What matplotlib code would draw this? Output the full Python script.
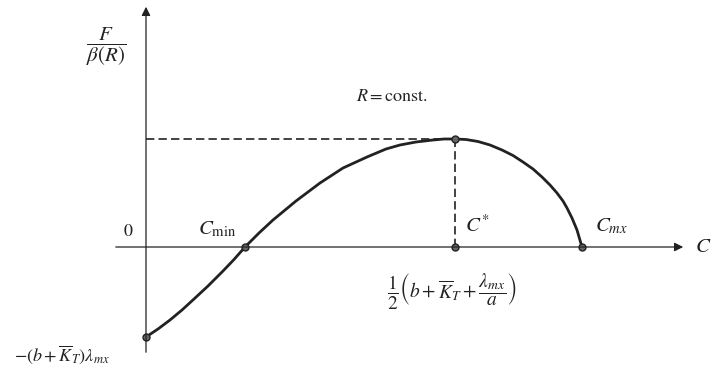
import matplotlib
matplotlib.use("Agg")
import matplotlib.pyplot as plt

plt.rcParams['mathtext.fontset'] = 'stix'
plt.rcParams['font.family'] = ['STIXGeneral', 'DejaVu Serif']

# F/beta(R) against C at fixed R (arbitrary units)
c_vals = [0, 12, 24, 36, 48, 62, 77, 88, 99, 113, 127, 150, 174, 197, 221,
          240, 254, 270, 287, 298, 309, 320, 332, 344, 356, 367, 377, 387,
          396, 404, 411, 417, 421, 426, 431, 436]
f_vals = [-90, -82, -73, -63, -52, -39, -24, -12.5, 0, 14, 27, 46, 64, 79, 90,
          98, 102, 105, 107, 108, 108, 107.5, 105.5, 102, 97, 91.5, 85, 78,
          70, 62, 54, 46, 39, 29, 17, 0]

c_min = 99
c_star = 309
c_mx = 436
f_peak = 108
f_start = -90

ink = '#222222'

fig = plt.figure(figsize=(7.12, 3.66), dpi=100)
ax = fig.add_axes([0, 0, 1, 1])
ax.set_xlim(-146, 566)
ax.set_ylim(-119, 247)
ax.axis('off')

# axes with arrow heads
ax.annotate('', xy=(540, 0), xytext=(-33, 0),
            arrowprops=dict(arrowstyle='-|>', lw=0.9, color=ink, mutation_scale=13))
ax.annotate('', xy=(0, 243), xytext=(0, -108),
            arrowprops=dict(arrowstyle='-|>', lw=0.9, color=ink, mutation_scale=13))

# guide lines to the maximum
ax.plot([0, c_star], [f_peak, f_peak], color=ink, lw=1.2, ls=(0, (5, 2.5)))
ax.plot([c_star, c_star], [0, f_peak], color=ink, lw=1.2, ls=(0, (5, 2.5)))

ax.plot(c_vals, f_vals, color=ink, lw=2.0, solid_capstyle='round')

pts_c = [0, c_min, c_star, c_star, c_mx]
pts_f = [f_start, 0, f_peak, 0, 0]
ax.plot(pts_c, pts_f, ls='none', marker='o', ms=5, mfc='#666666', mec=ink, mew=1.0)

fs = 13
ax.text(-40, 200, r'$\dfrac{F}{\beta(R)}$', fontsize=fs + 2, color=ink, ha='center', va='center')
ax.text(246, 150, r'$R = \mathrm{const.}$', fontsize=fs, color=ink, ha='center', va='center')
ax.text(-18, 15, r'$0$', fontsize=fs, color=ink, ha='center', va='center')
ax.text(71, 18, r'$C_{\mathrm{min}}$', fontsize=fs + 2, color=ink, ha='center', va='center')
ax.text(331, 21, r'$C^{*}$', fontsize=fs + 2, color=ink, ha='center', va='center')
ax.text(466, 21, r'$C_{mx}$', fontsize=fs + 2, color=ink, ha='center', va='center')
ax.text(557, 0, r'$C$', fontsize=fs + 2, color=ink, ha='center', va='center')
ax.text(306, -44, r'$\dfrac{1}{2}\left(b+\overline{K}_T+\dfrac{\lambda_{mx}}{a}\right)$',
        fontsize=fs + 1, color=ink, ha='center', va='center')
ax.text(-84, -108, r'$-(b+\overline{K}_T)\lambda_{mx}$', fontsize=fs, color=ink,
        ha='center', va='center')

fig.savefig('out.png', dpi=100, facecolor='white')
